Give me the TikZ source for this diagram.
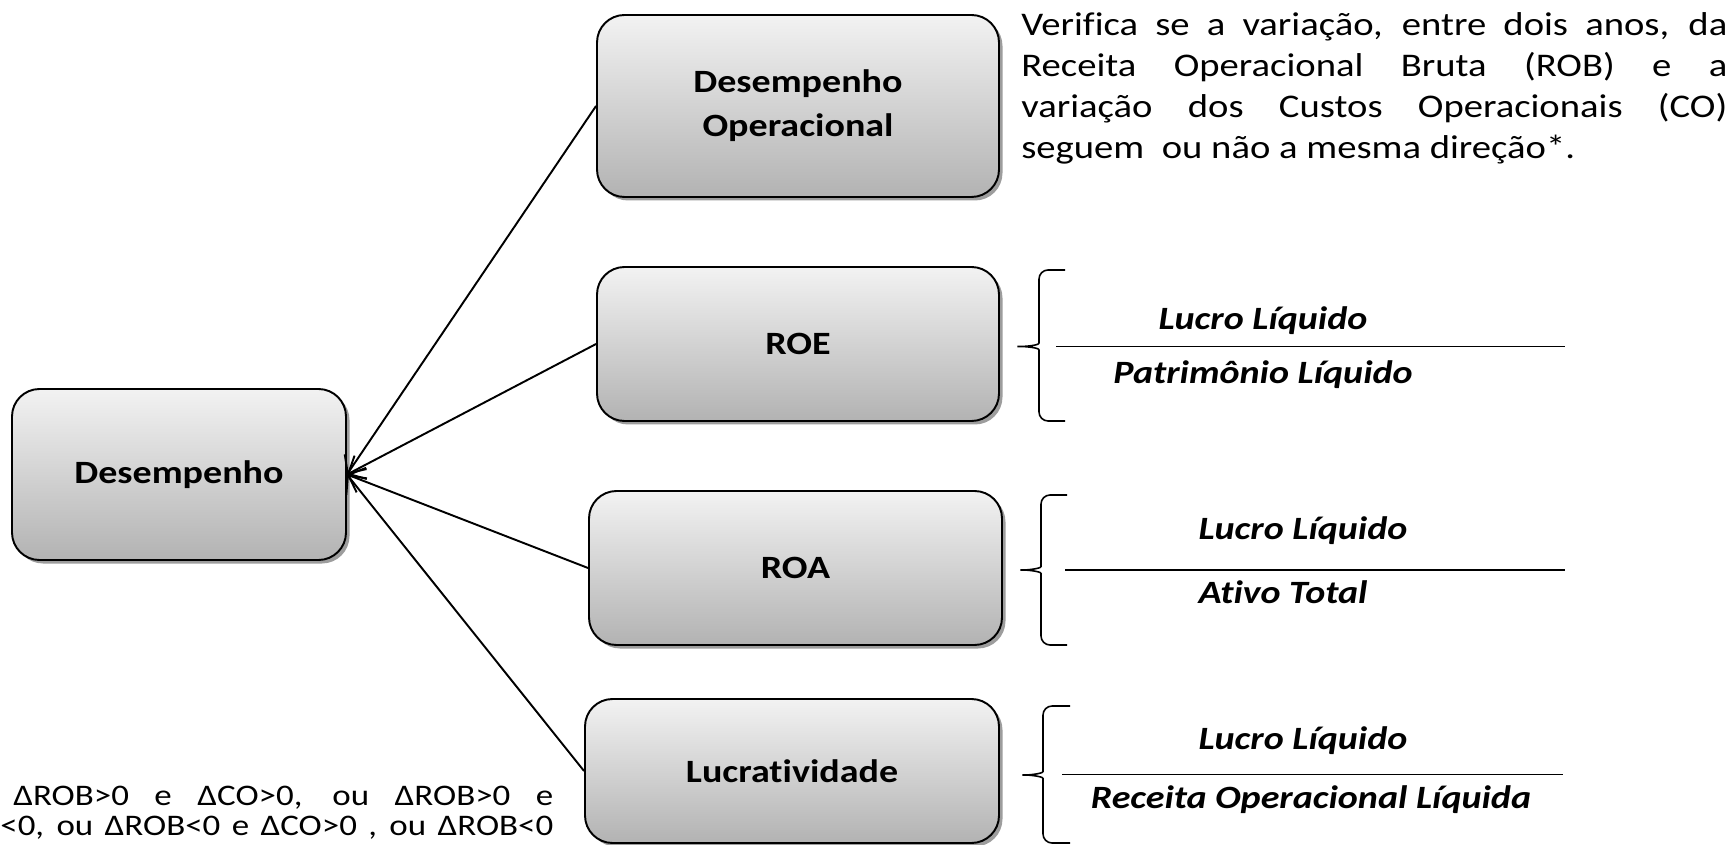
\documentclass[tikz,border=0pt]{standalone}
\usepackage{fontspec}
\setmainfont{Carlito}[FakeStretch=1.17,Ligatures=NoCommon]
\usetikzlibrary{arrows.meta,shadows,positioning}

\tikzset{
  caixa/.style={draw, line width=1.1pt, rounded corners=0.55cm,
    top color=black!5, bottom color=black!30,
    drop shadow={shadow xshift=0.07cm, shadow yshift=-0.07cm, fill=black!55, opacity=0.7},
    font=\fontsize{18.5}{25}\selectfont\bfseries, align=center},
  seta/.style={-{Straight Barb[length=8pt,width=15pt]}, line width=1.1pt},
  chave/.style={line width=0.9pt, rounded corners=0.18cm},
  traco/.style={line width=1pt},
  fracao/.style={font=\fontsize{18.5}{22}\selectfont\bfseries\itshape, inner sep=0pt},
  texto/.style={font=\fontsize{18.8}{23.3}\selectfont, inner sep=0pt},
  rodape/.style={font=\fontsize{17}{17}\selectfont, inner sep=0pt}
}

\begin{document}
\begin{tikzpicture}
  \useasboundingbox (0,0) rectangle (34.68,-16.9);
  % caixas
  \node[caixa, minimum width=6.68cm, minimum height=3.42cm] (desemp) at (3.58,-9.49) {Desempenho};
  \node[caixa, minimum width=8.04cm, minimum height=3.64cm] (desop) at (15.96,-2.12) {Desempenho\\Operacional};
  \node[caixa, minimum width=8.04cm, minimum height=3.08cm] (roe) at (15.96,-6.88) {ROE};
  \node[caixa, minimum width=8.26cm, minimum height=3.08cm] (roa) at (15.91,-11.36) {ROA};
  \node[caixa, minimum width=8.28cm, minimum height=2.88cm] (lucr) at (15.84,-15.42) {Lucratividade};
  % setas
  \draw[seta] (desop.west) -- (desemp.east);
  \draw[seta] (roe.west) -- (desemp.east);
  \draw[seta] (roa.west) -- (desemp.east);
  \draw[seta] (lucr.west) -- (desemp.east);
  % texto explicativo
  \node[texto, anchor=north west, text width=14.12cm, align=justify] (verif) at (20.42,-0.24)
    {Verifica se a variação, entre dois anos, da\linebreak
     Receita Operacional Bruta (ROB) e a\linebreak
     variação dos Custos Operacionais (CO)\linebreak
     seguem \ ou não a mesma direção*.};
  % chaves
  \draw[chave] (21.3,-5.4) -- (20.78,-5.4) -- (20.78,-6.68) to[out=-90,in=0] (20.24,-6.93)
    to[out=0,in=90] (20.78,-7.18) -- (20.78,-8.42) -- (21.3,-8.42);
  \draw[chave] (21.34,-9.9) -- (20.82,-9.9) -- (20.82,-11.15) to[out=-90,in=0] (20.3,-11.4)
    to[out=0,in=90] (20.82,-11.65) -- (20.82,-12.9) -- (21.34,-12.9);
  \draw[chave] (21.4,-14.12) -- (20.86,-14.12) -- (20.86,-15.25) to[out=-90,in=0] (20.34,-15.5)
    to[out=0,in=90] (20.86,-15.75) -- (20.86,-16.86) -- (21.4,-16.86);
  % fracoes
  \draw[traco] (21.12,-6.93) -- (31.3,-6.93);
  \draw[traco] (21.3,-11.4) -- (31.3,-11.4);
  \draw[traco] (21.24,-15.49) -- (31.26,-15.49);
  \node[fracao] (lucroA) at (25.26,-6.42) {Lucro Líquido};
  \node[fracao] (patrim) at (25.26,-7.5) {Patrimônio Líquido};
  \node[fracao] (lucroB) at (26.06,-10.62) {Lucro Líquido};
  \node[fracao] (ativo) at (25.66,-11.84) {Ativo Total};
  \node[fracao] (lucroC) at (26.06,-14.82) {Lucro Líquido};
  \node[fracao] (receita) at (26.22,-16.0) {Receita Operacional Líquida};
  % nota
  \node[rodape, anchor=base west] (cond1) at (0.26,-16.1)
    {\makebox[10.8cm][s]{ΔROB>0 e ΔCO>0, ou ΔROB>0 e}};
  \node[rodape, anchor=base west] (cond2) at (0,-16.7)
    {\makebox[11.06cm][s]{<0, ou ΔROB<0 e ΔCO>0 , ou ΔROB<0}};
\end{tikzpicture}
\end{document}
